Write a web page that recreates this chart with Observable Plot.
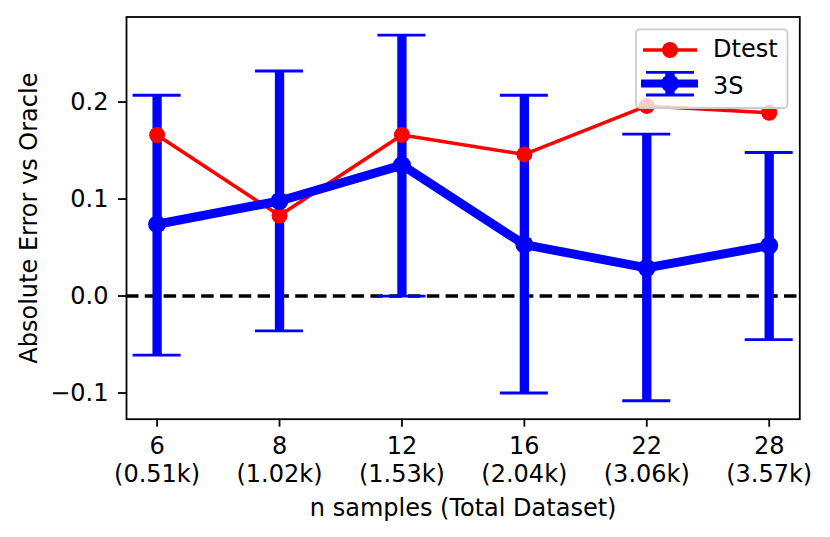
<!DOCTYPE html>
<html>
<head>
<meta charset="utf-8">
<script src="https://cdn.jsdelivr.net/npm/d3@7"></script>
<script src="https://cdn.jsdelivr.net/npm/@observablehq/plot@0.6"></script>
<style>
  html, body { margin: 0; padding: 0; background: #fff; }
  #chart svg { display: block; }
  #chart svg text { font-family: "DejaVu Sans", sans-serif !important; font-size: 24px !important; }
</style>
</head>
<body>
<div id="chart"></div>
<script>
// ---- data ----
const nSamples = ["6", "8", "12", "16", "22", "28"];
const totalDataset = ["(0.51k)", "(1.02k)", "(1.53k)", "(2.04k)", "(3.06k)", "(3.57k)"];
const dtestValues = [0.166, 0.083, 0.166, 0.146, 0.196, 0.189];
const s3Mean = [0.074, 0.098, 0.135, 0.053, 0.029, 0.052];
const s3Low = [-0.061, -0.036, 0.000, -0.100, -0.108, -0.045];
const s3High = [0.207, 0.232, 0.269, 0.207, 0.167, 0.148];
const yTicks = [-0.1, 0.0, 0.1, 0.2];
const seriesNames = ["Dtest", "3S"];
const xLabel = "n samples (Total Dataset)";
const yLabel = "Absolute Error vs Oracle";

const rows = nSamples.map((n, i) => ({
  i, n, k: totalDataset[i],
  dtest: dtestValues[i], mean: s3Mean[i], low: s3Low[i], high: s3High[i]
}));

const RED = "#ff0000", BLUE = "#0000ff";
const FONT = "DejaVu Sans, sans-serif";

const plot = Plot.plot({
  width: 830,
  height: 537,
  marginLeft: 126,
  marginRight: 30.7,
  marginTop: 16.5,
  marginBottom: 118.3,
  style: { fontFamily: FONT, fontSize: "24px", background: "#fff", color: "#000" },
  x: { type: "linear", domain: [-0.25, 5.25] },
  y: { domain: [-0.127, 0.2877] },
  marks: [
    Plot.ruleY([0], { stroke: "#000", strokeWidth: 3.5, strokeDasharray: "12.5,6.3" }),
    Plot.ruleX(rows, { x: "i", y1: "low", y2: "high", stroke: BLUE, strokeWidth: 9.3 }),
    Plot.ruleY(rows, { y: "high", x1: "i", x2: "i", insetLeft: -24, insetRight: -24, stroke: BLUE, strokeWidth: 2.8 }),
    Plot.ruleY(rows, { y: "low", x1: "i", x2: "i", insetLeft: -24, insetRight: -24, stroke: BLUE, strokeWidth: 2.8 }),
    Plot.line(rows, { x: "i", y: "dtest", stroke: RED, strokeWidth: 3.5, strokeLinejoin: "round" }),
    Plot.dot(rows, { x: "i", y: "dtest", r: 8, fill: RED, stroke: "none" }),
    Plot.line(rows, { x: "i", y: "mean", stroke: BLUE, strokeWidth: 9, strokeLinejoin: "round" }),
    Plot.dot(rows, { x: "i", y: "mean", r: 9, fill: BLUE, stroke: "none" }),
    Plot.frame({ stroke: "#000", strokeWidth: 1.8 }),
    Plot.axisY({
      ticks: yTicks,
      tickFormat: d => (d < 0 ? "\u2212" : "") + Math.abs(d).toFixed(1),
      tickSize: 8, tickPadding: 10, strokeWidth: 1.8, label: null
    }),
    Plot.axisX({
      ticks: rows.map(d => d.i),
      tickFormat: i => nSamples[i] + "\n" + totalDataset[i],
      tickSize: 8, tickPadding: 8, lineHeight: 1.13, strokeWidth: 1.8, label: null
    }),
    Plot.text([yLabel], { text: d => d, frameAnchor: "left", rotate: -90, textAnchor: "middle", lineAnchor: "middle", dx: -97, fill: "#000" }),
    Plot.text([xLabel], { text: d => d, frameAnchor: "bottom", textAnchor: "middle", lineAnchor: "top", dy: 79.5, fill: "#000" })
  ]
});

document.getElementById("chart").appendChild(plot);

// ---- legend (drawn inside the axes, upper right) ----
const svg = d3.select(plot);
const lg = svg.append("g").attr("font-family", FONT).attr("font-size", 24).attr("text-anchor", "start");
lg.append("rect")
  .attr("x", 636).attr("y", 29.3).attr("width", 151.5).attr("height", 78.7)
  .attr("rx", 4).attr("ry", 4)
  .attr("fill", "#fff").attr("fill-opacity", 0.8)
  .attr("stroke", "#cccccc").attr("stroke-width", 1.8);
// Dtest entry
lg.append("line").attr("x1", 643).attr("x2", 697).attr("y1", 50).attr("y2", 50)
  .attr("stroke", RED).attr("stroke-width", 3.5);
lg.append("circle").attr("cx", 670).attr("cy", 50).attr("r", 8).attr("fill", RED);
lg.append("text").attr("x", 713).attr("y", 57).attr("text-anchor", "start").attr("fill", "#000").text(seriesNames[0]);
// 3S entry
lg.append("line").attr("x1", 641).attr("x2", 698).attr("y1", 83.5).attr("y2", 83.5)
  .attr("stroke", BLUE).attr("stroke-width", 8);
lg.append("line").attr("x1", 670).attr("x2", 670).attr("y1", 72.3).attr("y2", 95)
  .attr("stroke", BLUE).attr("stroke-width", 9.3);
lg.append("line").attr("x1", 646).attr("x2", 694).attr("y1", 72.3).attr("y2", 72.3)
  .attr("stroke", BLUE).attr("stroke-width", 2.8);
lg.append("line").attr("x1", 646).attr("x2", 694).attr("y1", 95).attr("y2", 95)
  .attr("stroke", BLUE).attr("stroke-width", 2.8);
lg.append("circle").attr("cx", 670).attr("cy", 83.5).attr("r", 9).attr("fill", BLUE);
lg.append("text").attr("x", 713).attr("y", 93.5).attr("text-anchor", "start").attr("fill", "#000").text(seriesNames[1]);
</script>
</body>
</html>
